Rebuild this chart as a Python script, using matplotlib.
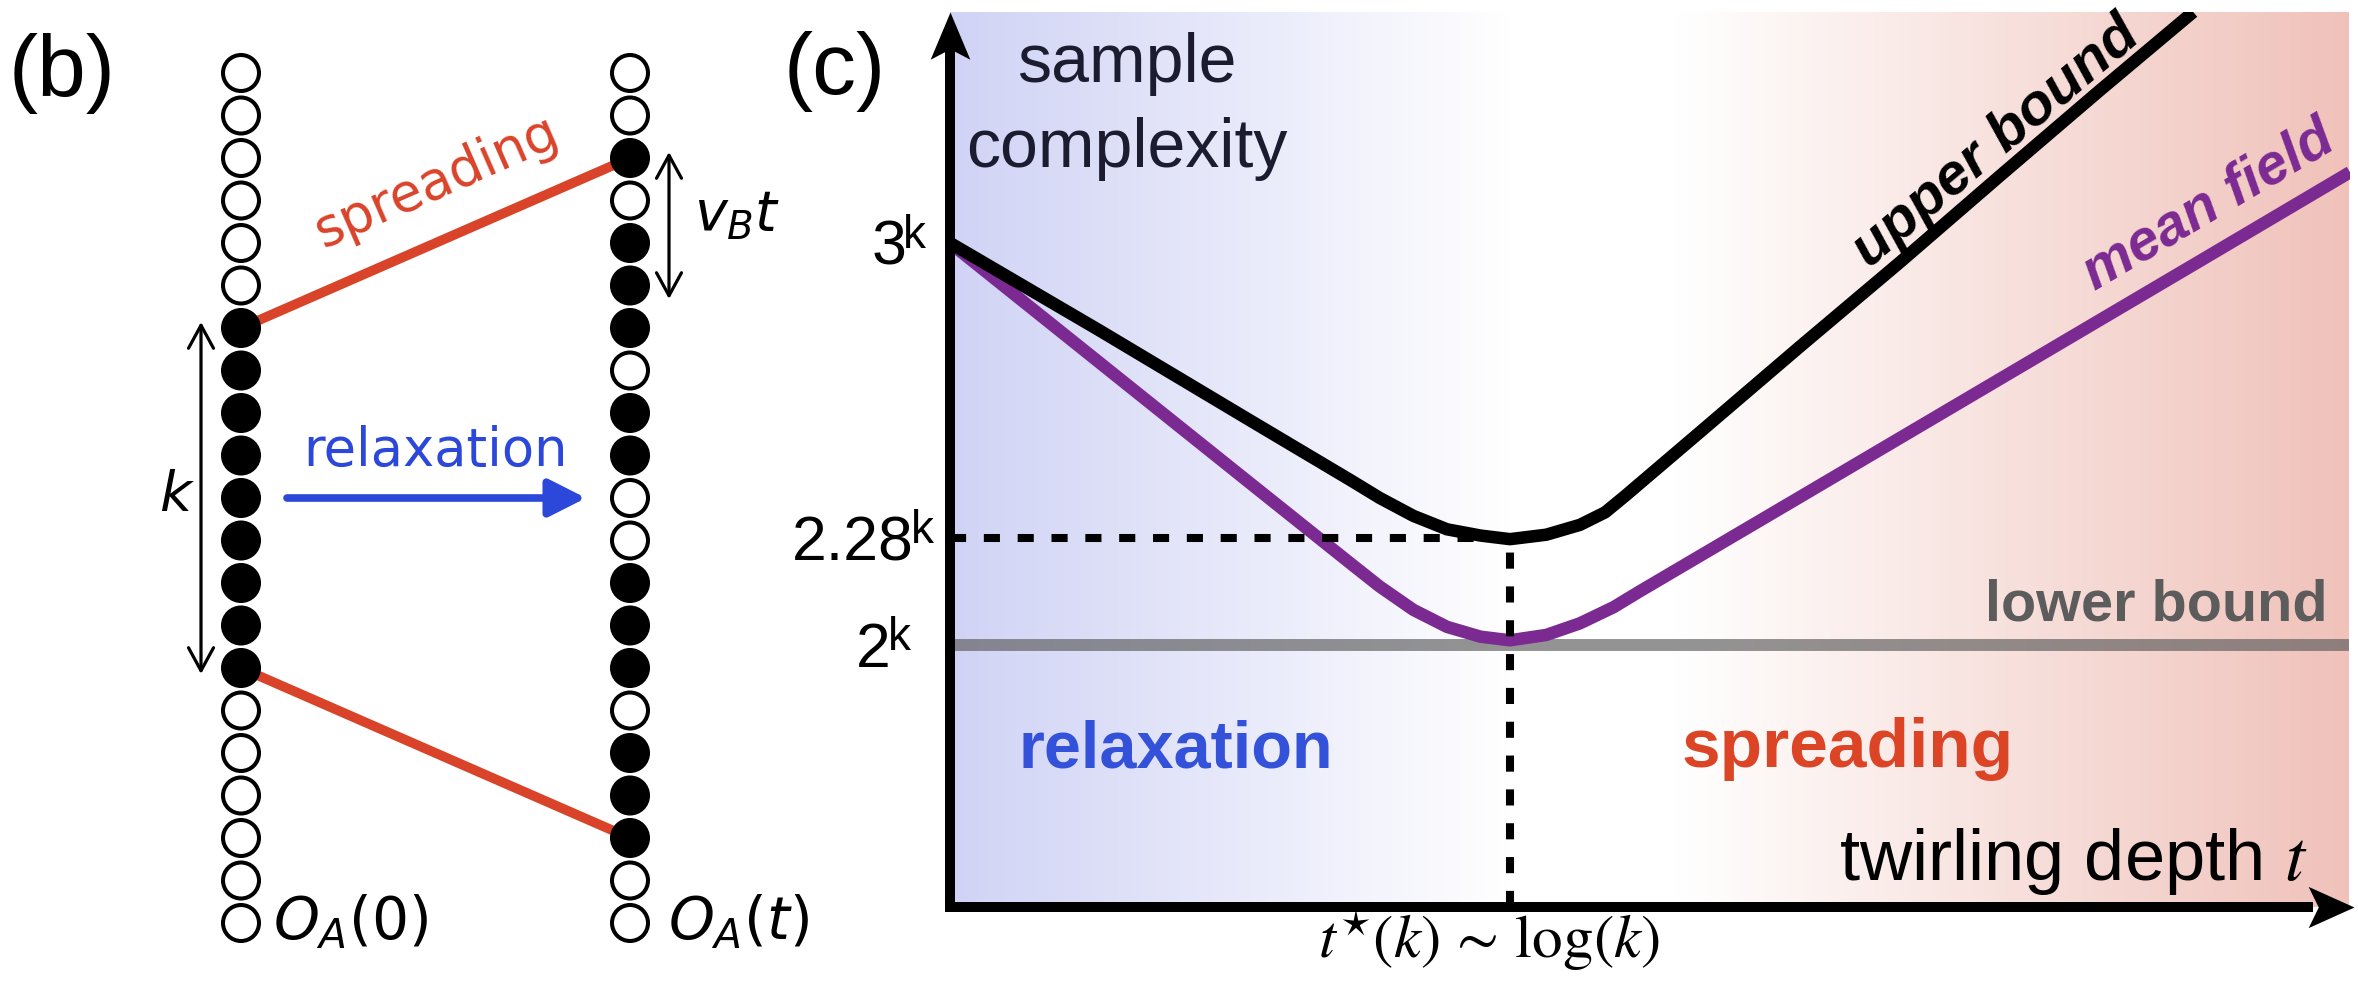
import numpy as np
import matplotlib
matplotlib.use("Agg")
import matplotlib.pyplot as plt
from matplotlib.patches import Circle
from matplotlib.path import Path
from matplotlib.colors import LinearSegmentedColormap

# ---------------- data ----------------
# panel (b): occupation of the sites of O_A(0) (left column) and O_A(t) (right column); 1 = filled
sites_left = [0, 0, 0, 0, 0, 0, 1, 1, 1, 1, 1, 1, 1, 1, 1, 0, 0, 0, 0, 0, 0]
sites_right = [0, 0, 1, 0, 1, 1, 1, 0, 1, 1, 0, 0, 1, 1, 1, 0, 1, 1, 1, 0, 0]
spread_left_idx = [6, 14]
spread_right_idx = [2, 18]

# panel (c): schematic sample complexity vs twirling depth (arbitrary units)
t_upper = [0.00, 1.07, 2.14, 2.86, 3.07, 3.31, 3.55, 3.79, 4.00, 4.26, 4.50, 4.68, 4.82,
           5.36, 6.07, 6.79, 7.50, 8.21, 8.88]
upper_bound = [7.42, 6.44, 5.44, 4.77, 4.57, 4.37, 4.22, 4.15, 4.11, 4.16, 4.27, 4.41, 4.59,
               5.31, 6.26, 7.21, 8.17, 9.12, 10.00]
t_mf = [0.00, 1.07, 2.14, 2.86, 3.07, 3.31, 3.55, 3.79, 4.00, 4.26, 4.50, 4.74, 4.93,
        6.07, 7.50, 8.93, 10.00]
mean_field = [7.42, 6.08, 4.74, 3.84, 3.58, 3.32, 3.13, 3.02, 2.98, 3.04, 3.17, 3.35, 3.53,
              4.58, 5.90, 7.22, 8.21]
lower_bound = 2.93
t_star = 4.00
level_ticks = [7.42, 4.12, 2.93]
level_labels = ["3", "2.28", "2"]

# ---------------- styles ----------------
RED = "#D9432A"
BLUE_B = "#2C48DA"
BLUE_C = "#3452D9"
RED_C = "#DC4426"
PURPLE = "#7B2A92"
HELV = "Liberation Sans"
DJV = "DejaVu Sans"

W, H = 2358, 984
fig = plt.figure(figsize=(W / 100, H / 100), dpi=100)

# ================= panel (b): pixel-space axes =================
axb = fig.add_axes([0, 0, 1, 1])
axb.set_xlim(0, W)
axb.set_ylim(H, 0)
axb.axis("off")

col_x = [241, 630]
y0, dy, rad = 73, 42.5, 18


def site_y(i):
    return y0 + i * dy


for cx, sites in zip(col_x, [sites_left, sites_right]):
    for i, s in enumerate(sites):
        axb.add_patch(Circle((cx, site_y(i)), rad, facecolor="black" if s else "white",
                             edgecolor="black", lw=2.9, zorder=3))

for il, ir in zip(spread_left_idx, spread_right_idx):
    axb.plot([col_x[0], col_x[1]], [site_y(il), site_y(ir)], color=RED, lw=7,
             solid_capstyle="butt", zorder=2)

ang_spread = np.degrees(np.arctan2(site_y(spread_left_idx[0]) - site_y(spread_right_idx[0]),
                                   col_x[1] - col_x[0]))
axb.text(436, 182, "spreading", color=RED, fontsize=38, family=DJV, rotation=ang_spread,
         rotation_mode="anchor", ha="center", va="center")

axb.text(435, 451, "relaxation", color=BLUE_B, fontsize=38, family=DJV, ha="center", va="center")
axb.annotate("", xy=(586, 498), xytext=(287, 498),
             arrowprops=dict(arrowstyle="-|>,head_length=0.75,head_width=0.38", color=BLUE_B,
                             lw=5.5, shrinkA=0, shrinkB=0, mutation_scale=30, capstyle="round"))

# k arrow
axb.annotate("", xy=(201, 674), xytext=(201, 322),
             arrowprops=dict(arrowstyle="<->,head_length=0.55,head_width=0.3", color="black",
                             lw=2.3, shrinkA=0, shrinkB=0, mutation_scale=30))
axb.text(177, 496, r"$k$", fontsize=40, ha="center", va="center", math_fontfamily="dejavusans")

# v_B t arrow
axb.annotate("", xy=(669, 299), xytext=(669, 152),
             arrowprops=dict(arrowstyle="<->,head_length=0.55,head_width=0.3", color="black",
                             lw=2.3, shrinkA=0, shrinkB=0, mutation_scale=30))
axb.text(694, 215, r"$v_Bt$", fontsize=40, ha="left", va="center", math_fontfamily="dejavusans")

axb.text(273, 922, r"$O_A(0)$", fontsize=42, ha="left", va="center", math_fontfamily="dejavusans")
axb.text(668, 922, r"$O_A(t)$", fontsize=42, ha="left", va="center", math_fontfamily="dejavusans")

axb.text(62, 74, "(b)", fontsize=63, family=HELV, ha="center", va="center")
axb.text(835, 72, "(c)", fontsize=63, family=HELV, ha="center", va="center")

# ================= panel (c) =================
x_left, x_right, y_bot, y_top = 950, 2350, 907, 12
axc = fig.add_axes([x_left / W, (H - y_bot) / H, (x_right - x_left) / W, (y_bot - y_top) / H])
axc.set_xlim(0, 10)
axc.set_ylim(0, 10)
axc.axis("off")

cmap = LinearSegmentedColormap.from_list(
    "bg", [(0.0, "#D0D3F5"), (0.40, "#FFFFFF"), (0.52, "#FFFFFF"), (1.0, "#F0C2BA")])
grad = np.linspace(0, 1, 512)[None, :]
axc.imshow(grad, extent=[0, 9.99, 0, 10], aspect="auto", cmap=cmap, zorder=0,
           interpolation="bilinear")

axc.plot([0, 9.99], [lower_bound, lower_bound], color="#5a5a5a", alpha=0.65, lw=8.6,
         solid_capstyle="butt", zorder=1)
axc.plot(t_mf, mean_field, color=PURPLE, lw=9, solid_joinstyle="round",
         solid_capstyle="butt", zorder=2)
axc.plot([0, t_star], [level_ticks[1], level_ticks[1]], color="black", lw=5.8,
         ls=(0, (2, 2.2)), zorder=3)
axc.plot([t_star, t_star], [0, level_ticks[1]], color="black", lw=5.8,
         ls=(0, (2, 2.2)), zorder=3)
axc.plot(t_upper, upper_bound, color="black", lw=9, solid_joinstyle="round",
         solid_capstyle="butt", zorder=4)

# axes with stealth arrow heads
axc.plot([0, 0], [0, 9.6], color="black", lw=7.2, solid_capstyle="projecting",
         clip_on=False, zorder=6)
axc.plot([0, 9.7], [0, 0], color="black", lw=7.2, solid_capstyle="projecting",
         clip_on=False, zorder=6)
up_head = Path([(0, 0), (0.42, -1), (0, -0.78), (-0.42, -1), (0, 0)],
               [Path.MOVETO, Path.LINETO, Path.LINETO, Path.LINETO, Path.CLOSEPOLY])
right_head = Path([(0, 0), (-1, 0.45), (-0.78, 0), (-1, -0.45), (0, 0)],
                  [Path.MOVETO, Path.LINETO, Path.LINETO, Path.LINETO, Path.CLOSEPOLY])
axc.plot([0], [10.0], marker=up_head, markersize=68, color="black", mew=0,
         clip_on=False, zorder=7)
axc.plot([10.03], [0], marker=right_head, markersize=66, color="black", mew=0,
         clip_on=False, zorder=7)

# level labels: base number plus a superscript k
label_dx = [-44, -36, -59]
for lev, lab, dx in zip(level_ticks, level_labels, label_dx):
    axc.annotate(lab, xy=(0, lev), xytext=(dx, -22), textcoords="offset pixels",
                 ha="right", va="baseline", fontsize=45, family=HELV, annotation_clip=False)
    axc.annotate("k", xy=(0, lev), xytext=(dx - 3, -5), textcoords="offset pixels",
                 ha="left", va="baseline", fontsize=33, family=HELV, annotation_clip=False)

axc.annotate(r"$t^{\star}(k)\,\sim\,\log(k)$", xy=(t_star, 0), xytext=(-21, -51),
             textcoords="offset pixels", ha="center", va="baseline", fontsize=44,
             math_fontfamily="stix", annotation_clip=False)

axc.text(9.70, 0.30, r"twirling depth $t$", fontsize=52, family=HELV, ha="right",
         va="baseline", math_fontfamily="stix")
axc.text(1.26, 9.22, "sample", fontsize=49, family=HELV, ha="center", va="baseline",
         color="#1c1c30")
axc.text(1.26, 8.27, "complexity", fontsize=49, family=HELV, ha="center", va="baseline",
         color="#1c1c30")

axc.text(1.61, 1.56, "relaxation", fontsize=48, family=HELV, fontweight="bold",
         color=BLUE_C, ha="center", va="baseline")
axc.text(6.41, 1.56, "spreading", fontsize=50, family=HELV, fontweight="bold",
         color=RED_C, ha="center", va="baseline")
axc.text(9.84, 3.20, "lower bound", fontsize=41.5, family=HELV, fontweight="bold",
         color="#5c5c5c", ha="right", va="baseline")


def disp_angle(xs, ys):
    p1 = axc.transData.transform((xs[-2], ys[-2]))
    p2 = axc.transData.transform((xs[-1], ys[-1]))
    return np.degrees(np.arctan2(p2[1] - p1[1], p2[0] - p1[0]))


axc.text(7.47, 8.54, "upper bound", fontsize=42, family=HELV, fontweight="bold",
         fontstyle="italic", color="black", rotation=disp_angle(t_upper, upper_bound),
         rotation_mode="anchor", ha="center", va="center")
axc.text(8.99, 7.83, "mean field", fontsize=41, family=HELV, fontweight="bold",
         fontstyle="italic", color=PURPLE, rotation=disp_angle(t_mf, mean_field),
         rotation_mode="anchor", ha="center", va="center")

fig.savefig("out.png", dpi=100)
